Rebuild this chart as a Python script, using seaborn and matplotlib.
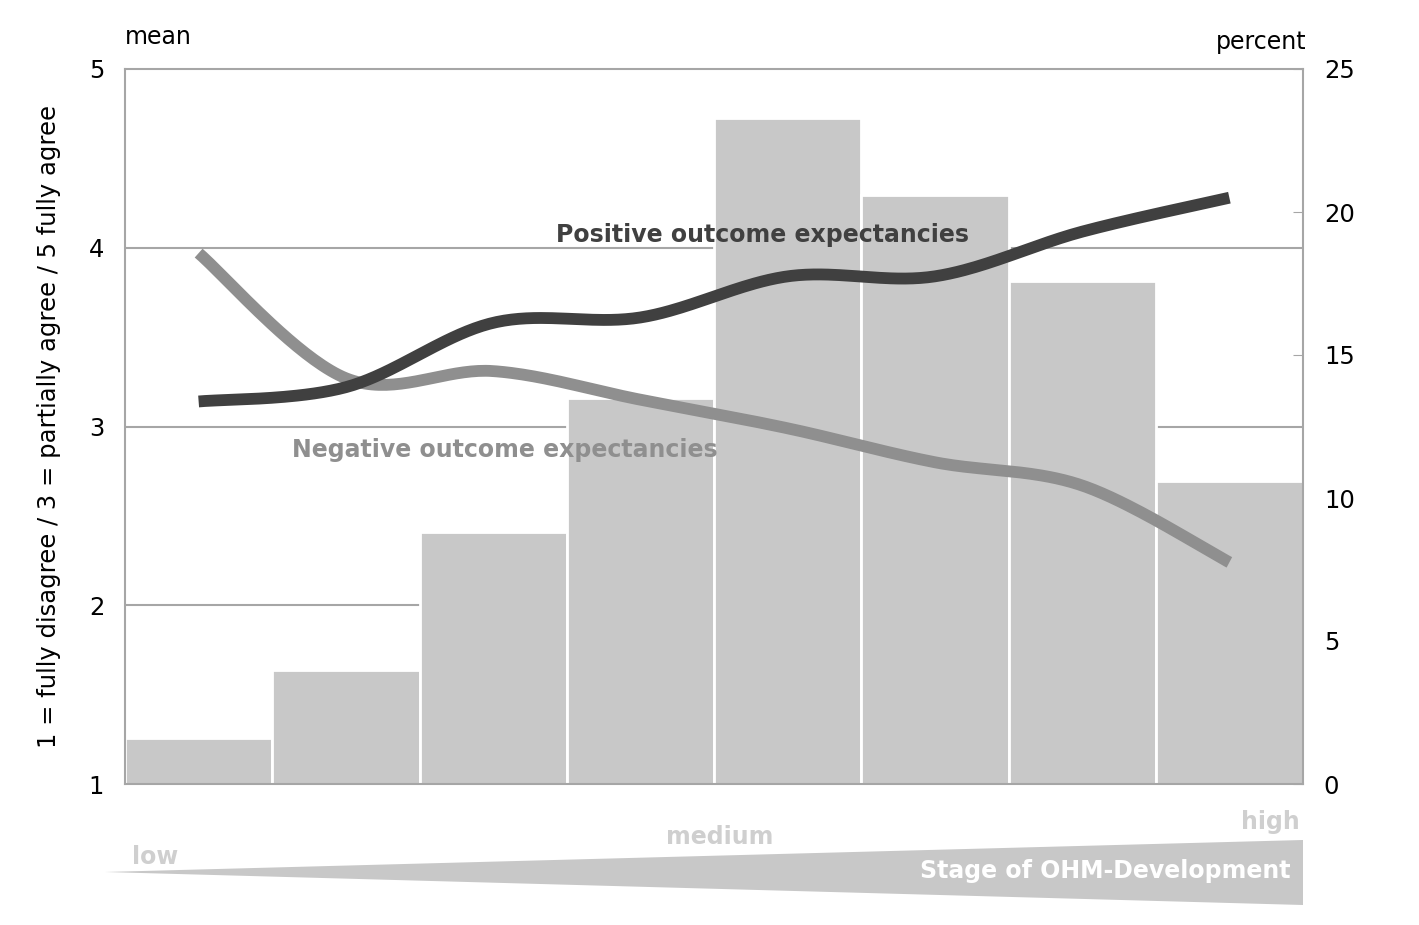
import numpy as np
import pandas as pd
import matplotlib.pyplot as plt
import seaborn as sns
from matplotlib.patches import Polygon

# stages of OHM development (8 groups, low -> high)
stages = ["1", "2", "3", "4", "5", "6", "7", "8"]
share_pct = [1.6, 4.0, 8.8, 13.5, 23.3, 20.6, 17.6, 10.6]
positive_mean = [3.14, 3.22, 3.58, 3.61, 3.84, 3.84, 4.09, 4.28]
negative_mean = [3.97, 3.27, 3.31, 3.15, 2.99, 2.80, 2.67, 2.24]

mean_ticks = [1, 2, 3, 4, 5]
pct_ticks = [0, 5, 10, 15, 20, 25]


def smooth(y, n=40):
    # Catmull-Rom curve through the points (like Excel's smoothed line)
    y = np.asarray(y, dtype=float)
    x = np.arange(len(y), dtype=float)
    P = np.column_stack([x, y])
    P = np.vstack([P[0], P, P[-1]])
    out = []
    for i in range(1, len(P) - 2):
        p0, p1, p2, p3 = P[i - 1], P[i], P[i + 1], P[i + 2]
        t = np.linspace(0, 1, n, endpoint=(i == len(P) - 3))[:, None]
        c = 0.5 * ((2 * p1) + (-p0 + p2) * t + (2 * p0 - 5 * p1 + 4 * p2 - p3) * t**2
                   + (-p0 + 3 * p1 - 3 * p2 + p3) * t**3)
        out.append(c)
    c = np.vstack(out)
    return c[:, 0], c[:, 1]


sns.set_style("white")
plt.rcParams["font.family"] = ["DejaVu Sans"]
plt.rcParams["text.color"] = "black"
plt.rcParams["axes.labelcolor"] = "black"
plt.rcParams["ytick.labelcolor"] = "black"

fig = plt.figure(figsize=(14.19, 9.25), dpi=100)
ax = fig.add_axes([125 / 1419, 1 - 784 / 925, (1303 - 125) / 1419, (784 - 69) / 925])

grid_c = "#a6a6a6"
# horizontal gridlines of the mean scale, drawn behind the bars
for m in mean_ticks[1:-1]:
    ax.axhline((m - 1) / 4 * 25, color=grid_c, lw=1.5, zorder=0)

bars = pd.DataFrame({"stage": stages, "pct": share_pct})
sns.barplot(data=bars, x="stage", y="pct", color="#c8c8c8", width=1.0,
            edgecolor="white", linewidth=2, saturation=1, ax=ax, zorder=2)
ax.set_xlim(-0.5, len(stages) - 0.5)
ax.set_ylim(0, 25)
ax.set_xticks([])
ax.set_xlabel("")
ax.set_ylabel("")
for s in ax.spines.values():
    s.set_color(grid_c)
    s.set_linewidth(1.5)

ax2 = ax.twinx()
# twinx resets the host axis to the left; put the percent scale on the right
ax.yaxis.tick_right()
ax.set_yticks(pct_ticks)
ax.tick_params(axis="y", direction="in", length=7, color=grid_c, labelsize=17.5,
               pad=15, labelcolor="black")

ax2.yaxis.tick_left()
ax2.set_ylim(1, 5)
ax2.set_yticks(mean_ticks)
ax2.tick_params(axis="y", length=0, labelsize=17.5, pad=15, labelcolor="black")
for s in ax2.spines.values():
    s.set_visible(False)

xs, ys = smooth(negative_mean)
sns.lineplot(x=xs, y=ys, color="#8f8f8f", lw=8.5, sort=False, ax=ax2,
             solid_capstyle="butt")
xs, ys = smooth(positive_mean)
sns.lineplot(x=xs, y=ys, color="#404040", lw=8.5, sort=False, ax=ax2,
             solid_capstyle="butt")
ax2.set_xlim(-0.5, len(stages) - 0.5)
ax2.yaxis.set_label_position("left")
ax2.set_ylabel("1 = fully disagree / 3 = partially agree / 5 fully agree",
               fontsize=17.5, labelpad=20, color="black")

ax2.text(3.83, 4.07, "Positive outcome expectancies", ha="center", va="center",
         fontsize=17, fontweight="bold", color="#404040")
ax2.text(2.08, 2.87, "Negative outcome expectancies", ha="center", va="center",
         fontsize=17, fontweight="bold", color="#8f8f8f")

fig.text(125 / 1419, 1 - 37 / 925, "mean", fontsize=17, ha="left", va="center")
fig.text(1307 / 1419, 1 - 42 / 925, "percent", fontsize=17, ha="right", va="center")

# stage wedge below the chart
W, H = 1419, 925
wedge = Polygon([(105 / W, 1 - 872 / H), (1303 / W, 1 - 840 / H), (1303 / W, 1 - 905 / H)],
                closed=True, transform=fig.transFigure, facecolor="#c8c8c8",
                edgecolor="none")
fig.add_artist(wedge)
lab_c = "#cfcfcf"
fig.text(155 / W, 1 - 857 / H, "low", fontsize=17, fontweight="bold", color=lab_c,
         ha="center", va="center")
fig.text(720 / W, 1 - 837 / H, "medium", fontsize=17, fontweight="bold", color=lab_c,
         ha="center", va="center")
fig.text(1300 / W, 1 - 822 / H, "high", fontsize=17, fontweight="bold", color=lab_c,
         ha="right", va="center")
fig.text(1290 / W, 1 - 871 / H, "Stage of OHM-Development", fontsize=17,
         fontweight="bold", color="white", ha="right", va="center")

fig.savefig("out.png", dpi=100)
